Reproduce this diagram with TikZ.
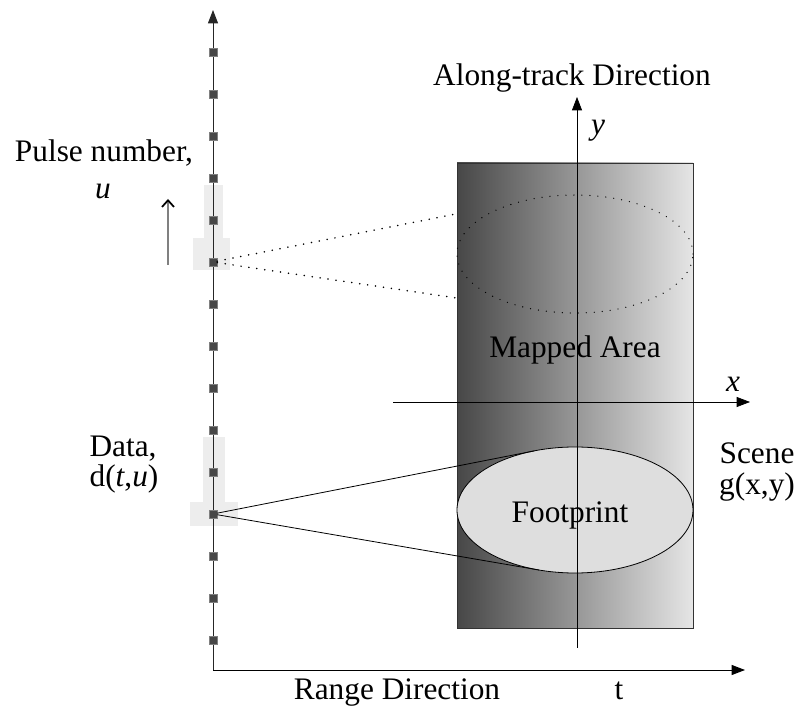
\documentclass[tikz,border=0pt]{standalone}
\usepackage{fontspec}
\setmainfont{Liberation Serif}
\usetikzlibrary{arrows.meta,shapes.geometric}

\begin{document}
\begin{tikzpicture}[x=0.75pt, y=-0.75pt, font=\fontsize{23.5}{28}\selectfont,
    pulse/.style={draw=black!50, fill=black!72, minimum size=6pt, inner sep=0pt},
    axis/.style={line width=0.7pt, -{Triangle[length=10pt, width=7.5pt]}},
    beam/.style={line width=1.3pt, line cap=round, dash pattern=on 0pt off 6pt}]
  \useasboundingbox (0,0) rectangle (797,712);
  % highlighted pulses
  \fill[black!7] (204,185) rectangle (223,268);
  \fill[black!7] (193,238) rectangle (230,270);
  \fill[black!7] (203,437) rectangle (225,526);
  \fill[black!7] (190,502) rectangle (238,526);
  \coordinate (o) at (213,670);
  \coordinate (utop) at (213,10);
  \coordinate (tend) at (745,670);
  \draw[axis, black!85] (o) -- (utop);
  \draw[axis] (o) -- (tend);
  \foreach \k in {0,...,14}
    \node[pulse] (p\k) at (213,52+42*\k) {};
  \coordinate (beamA) at (531.7,199);
  \coordinate (beamB) at (541.5,310.6);
  \draw[beam] (p5) -- (beamA);
  \draw[beam] (p5) -- (beamB);
  % mapped area
  \shade[left color=black!72, right color=black!10] (457,163) rectangle (693,628);
  \draw[black!80, line width=0.6pt] (457,163) rectangle (693,628);
  \draw[beam, line width=1pt] (575,254) ellipse [x radius=88.5pt, y radius=44.25pt];
  \node[draw, ellipse, fill=black!13, line width=0.6pt, minimum width=177pt,
        minimum height=94.5pt, inner sep=0pt] (footprint) at (575,510) {};
  \coordinate (fpA) at (534.3,450.9);
  \coordinate (fpB) at (538.9,570);
  \draw[line width=0.6pt] (p11) -- (fpA);
  \draw[line width=0.6pt] (p11) -- (fpB);
  % scene axes
  \coordinate (yb) at (577,648);
  \coordinate (yt) at (577,97);
  \coordinate (xb) at (393,402);
  \coordinate (xt) at (750,402);
  \draw[axis, line width=0.5pt] (yb) -- (yt);
  \draw[axis, line width=0.5pt] (xb) -- (xt);
  \coordinate (ub) at (168,265);
  \coordinate (ut) at (168,199);
  \draw[black!50, line width=0.8pt, -{Straight Barb[length=5pt, width=9pt, line width=1.3pt, black]}] (ub) -- (ut);
  % labels
  \node (pulselbl) at (104,153) {Pulse number,};
  \node (ulbl) at (103,191) {\textit{u}};
  \node (datalbl) at (123,449) {Data,};
  \node (dlbl) at (124,479) {d(\textit{t},\textit{u})};
  \node (along) at (572,78) {Along-track Direction};
  \node (ylbl) at (598,131) {\textit{y}};
  \node (mapped) at (575,350) {Mapped Area};
  \node (xlbl) at (733,384) {\textit{x}};
  \node (scene) at (757,453) {Scene};
  \node (glbl) at (757,487) {g(x,y)};
  \node (fplbl) at (570,515) {Footprint};
  \node (range) at (397,693) {Range Direction};
  \node (tlbl) at (619,691) {t};
\end{tikzpicture}
\end{document}
